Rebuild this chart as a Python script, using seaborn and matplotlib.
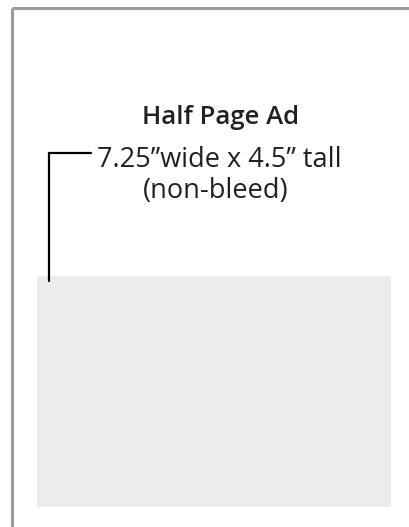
import matplotlib.pyplot as plt
import matplotlib.patches as patches
import seaborn as sns

# Layout of the ad mock-up, in pixel units of the page
page_box = [12, 8]            # left / top of page outline
ad_box = [37, 276, 391, 507]  # left, top, right, bottom of the grey ad area
bracket = [49, 91, 153, 281]  # x of vertical, x end of horizontal, y top, y bottom
title = "Half Page Ad"
size_lines = ["7.25\u201dwide x 4.5\u201d tall", "(non-bleed)"]

sns.set_theme(style="white")
plt.rcParams['font.family'] = ['Open Sans', 'DejaVu Sans']

fig = plt.figure(figsize=(4.1, 5.27), dpi=100)
ax = fig.add_axes([0, 0, 1, 1])
ax.set_xlim(0, 410)
ax.set_ylim(527, 0)
ax.axis('off')

# page outline (left and top edges only visible)
ax.plot([page_box[0], page_box[0]], [page_box[1], 527], color='#9b9b9b', linewidth=2.2, solid_capstyle='butt')
ax.plot([page_box[0], 410], [page_box[1], page_box[1]], color='#9b9b9b', linewidth=2.2, solid_capstyle='butt')

# grey ad area
ax.add_patch(patches.Rectangle((ad_box[0], ad_box[1]), ad_box[2] - ad_box[0], ad_box[3] - ad_box[1],
                               facecolor='#ececec', edgecolor='none'))

# bracket line
ax.plot([bracket[0], bracket[0], bracket[1]], [bracket[3], bracket[2], bracket[2]],
        color='black', linewidth=1.6, solid_joinstyle='miter')

ax.text(221, 124, title, ha='center', va='baseline', fontsize=18.5, fontweight='semibold', color='#231f20')
ax.text(219.5, 167, size_lines[0], ha='center', va='baseline', fontsize=19.5, color='#231f20')
ax.text(216, 198, size_lines[1], ha='center', va='baseline', fontsize=19.5, color='#231f20')

fig.savefig('out.png', dpi=100)
